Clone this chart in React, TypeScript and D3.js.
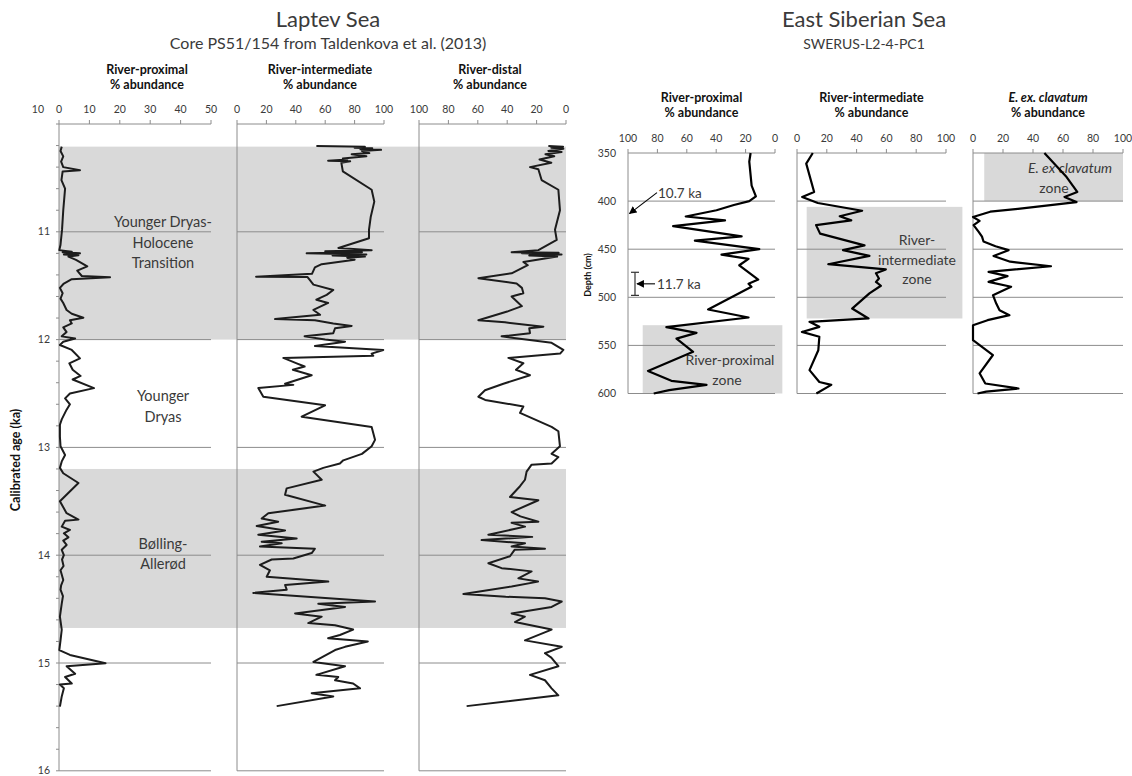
import React from 'react';
import * as d3 from 'd3';

const W = 1132;
const H = 776;
const FONT = "Lato, 'Open Sans', 'Liberation Sans', sans-serif";
const INK = '#1c1c1c';
const GRID = '#8c8c8c';
const BAND = '#d9d9d9';
const TEXT = '#3a3a3a';

type Pt = [number, number];

// ---------- Laptev Sea, core PS51/154 : [calibrated age (ka), % abundance] ----------
const laptevProximal: Pt[] = [
  [10.21, 0.9], [10.25, 0.5], [10.3, 1.4], [10.35, 0.7], [10.4, 1.4], [10.43, 6.9], [10.44, 1.2],
  [10.52, 0.8], [10.6, 2.0], [10.8, 1.4], [10.98, 1.0], [11.12, 0.5], [11.17, 0.1], [11.184, 4.2],
  [11.19, 1.2], [11.2, 6.9], [11.21, 1.6], [11.218, 6.4], [11.23, 3.1], [11.26, 5.6], [11.32, 9.3],
  [11.36, 6.0], [11.41, 7.5], [11.422, 16.8], [11.44, 4.2], [11.48, 1.6], [11.52, 0.3], [11.57, 1.2],
  [11.62, 0.5], [11.66, 1.4], [11.725, 2.5], [11.76, 4.2], [11.797, 8.0], [11.82, 3.6], [11.85, 4.2],
  [11.886, 1.4], [11.93, 2.5], [11.97, 0.9], [11.99, 5.3], [12.02, 1.4], [12.05, 0.3], [12.096, 4.2],
  [12.174, 6.9], [12.22, 3.4], [12.28, 4.5], [12.337, 7.1], [12.37, 4.5], [12.45, 11.5], [12.5, 3.6],
  [12.545, 2.0], [12.6, 3.6], [12.65, 2.5], [12.74, 0.9], [12.79, 0.3], [12.9, 0.3], [12.99, 0.5],
  [13.07, 2.0], [13.13, 0.9], [13.19, 0.3], [13.24, 1.4], [13.33, 6.4], [13.5, 0.3], [13.61, 2.5],
  [13.67, 6.4], [13.68, 2.0], [13.735, 0.9], [13.766, 3.6], [13.797, 1.6], [13.834, 3.1], [13.865, 1.4],
  [13.905, 2.5], [13.95, 0.9], [14.0, 1.6], [14.04, 1.0], [14.1, 1.5], [14.14, 0.5], [14.23, 1.4],
  [14.28, 0.7], [14.32, 0.5], [14.38, 1.3], [14.45, 0.9], [14.57, 0.3], [14.69, 0.9], [14.79, 0.5],
  [14.88, 0.1], [14.925, 3.6], [15.003, 15.3], [15.03, 2.5], [15.1, 5.3], [15.13, 2.0], [15.19, 4.2],
  [15.2, 0.3], [15.235, 1.6], [15.31, 0.9], [15.405, 0.3],
];

const laptevIntermediate: Pt[] = [
  [10.205, 54], [10.21, 87], [10.22, 80], [10.225, 92], [10.235, 84], [10.24, 98], [10.25, 85],
  [10.27, 90], [10.28, 78], [10.3, 88], [10.32, 72], [10.33, 75], [10.34, 62], [10.345, 77],
  [10.36, 71], [10.44, 72], [10.61, 91.6], [10.72, 93.4], [10.86, 91], [10.98, 89.8], [11.06, 89.8],
  [11.15, 69], [11.17, 91.6], [11.18, 60], [11.19, 85], [11.2, 47.4], [11.21, 88], [11.22, 65],
  [11.23, 87], [11.24, 75], [11.26, 80], [11.3, 57.6], [11.33, 53], [11.39, 51], [11.416, 13],
  [11.42, 48], [11.49, 52], [11.54, 65.5], [11.585, 61], [11.63, 54], [11.66, 62], [11.725, 52],
  [11.77, 56.5], [11.81, 25.9], [11.82, 53], [11.85, 65.5], [11.873, 78], [11.895, 66.7], [11.94, 65.5],
  [11.97, 46], [12.0, 60], [12.02, 73.5], [12.06, 53], [12.096, 99.5], [12.13, 91.6], [12.15, 92.7],
  [12.17, 31.5], [12.22, 40.6], [12.25, 46], [12.28, 38], [12.33, 50.8], [12.41, 32.7], [12.42, 38.3],
  [12.45, 14.5], [12.53, 17.9], [12.61, 59.9], [12.715, 44], [12.81, 91.6], [12.93, 93.9], [12.99, 91.6],
  [13.06, 85], [13.12, 72.3], [13.15, 70], [13.19, 58.7], [13.225, 52], [13.3, 57.6], [13.38, 33.8],
  [13.44, 32.7], [13.54, 60], [13.61, 21.3], [13.66, 16.8], [13.69, 28], [13.73, 13.4], [13.77, 32.7],
  [13.81, 14.5], [13.845, 40.6], [13.875, 16.8], [13.89, 30.4], [13.92, 15.6], [13.94, 53], [13.98, 50.8],
  [14.03, 38.3], [14.04, 23.6], [14.09, 15.6], [14.14, 22.4], [14.2, 20.2], [14.245, 62.1], [14.276, 32.7],
  [14.32, 33.8], [14.35, 11.1], [14.43, 93.9], [14.45, 55.3], [14.48, 73.5], [14.54, 39.5], [14.57, 57.6],
  [14.63, 48.5], [14.65, 66.7], [14.69, 79], [14.74, 70], [14.77, 62], [14.8, 89], [14.85, 73.5],
  [14.88, 66.7], [14.99, 52], [15.03, 73.5], [15.11, 54], [15.13, 68.9], [15.16, 66.7], [15.19, 79],
  [15.235, 83.7], [15.28, 50.8], [15.31, 65.5], [15.4, 27],
];

const laptevDistal: Pt[] = [
  [10.205, 12], [10.21, 2], [10.22, 10], [10.23, 1.8], [10.25, 12], [10.26, 3], [10.28, 14], [10.3, 8],
  [10.33, 18], [10.36, 10], [10.4, 24.5], [10.42, 18.8], [10.52, 16.6], [10.61, 5.2], [10.8, 4.1],
  [10.98, 7.5], [11.076, 6.3], [11.17, 18.8], [11.19, 37], [11.195, 5], [11.2, 30], [11.21, 3],
  [11.22, 25], [11.23, 6], [11.28, 29], [11.31, 26], [11.385, 37], [11.43, 59.6], [11.48, 33.6],
  [11.52, 30], [11.57, 29], [11.6, 37], [11.69, 30], [11.74, 40], [11.82, 59.6], [11.84, 41.5],
  [11.88, 15.4], [11.895, 25], [11.94, 24.5], [11.97, 43.8], [12.03, 9.8], [12.096, 1.8], [12.13, 4],
  [12.17, 39.2], [12.22, 29], [12.28, 34], [12.33, 24.5], [12.41, 42.6], [12.47, 55.1], [12.53, 59.6],
  [12.56, 55], [12.62, 29], [12.68, 31.3], [12.81, 9.8], [12.85, 5.2], [12.99, 4.1], [13.06, 9.8],
  [13.09, 5.2], [13.15, 9.8], [13.16, 23.4], [13.225, 26.8], [13.3, 27.9], [13.36, 31.3], [13.46, 38.1],
  [13.49, 18.8], [13.6, 37], [13.64, 31], [13.69, 18.8], [13.7, 37], [13.735, 27.9], [13.81, 52.8],
  [13.83, 23], [13.86, 57.4], [13.89, 27.9], [13.92, 37], [13.94, 14.3], [13.95, 35], [14.01, 38.1],
  [14.075, 52.8], [14.12, 43.8], [14.15, 23.4], [14.215, 32.4], [14.245, 19], [14.29, 37], [14.36, 69.8],
  [14.385, 41], [14.4, 14.3], [14.43, 2.9], [14.48, 9.8], [14.54, 37], [14.57, 28], [14.62, 34.7],
  [14.69, 9.8], [14.79, 27.9], [14.85, 2.9], [14.91, 14.3], [14.95, 10], [15.03, 5.2], [15.11, 24.5],
  [15.16, 14.3], [15.235, 9.8], [15.3, 5.2], [15.4, 67.6],
];

const laptevHeaders = [
  { title: 'River-proximal', italic: false },
  { title: 'River-intermediate', italic: false },
  { title: 'River-distal', italic: false },
];
const laptevDomains: [number, number][] = [[0, 50], [0, 100], [100, 0]];
const laptevAgeDomain: [number, number] = [10, 16];
const laptevPeriods = [
  { from: 10.21, to: 12.0 },
  { from: 13.2, to: 14.675 },
];
const laptevPeriodLabels = [
  { age: 11.1, lines: ['Younger Dryas-', 'Holocene', 'Transition'] },
  { age: 12.62, lines: ['Younger', 'Dryas'] },
  { age: 13.99, lines: ['Bølling-', 'Allerød'] },
];

// ---------- East Siberian Sea, SWERUS-L2-4-PC1 : [depth (cm), % abundance] ----------
const esProximal: Pt[] = [
  [350, 16.6], [359, 17.5], [384, 15.9], [395, 13], [400, 17.5], [404, 28], [409.5, 39.8], [416, 60.7],
  [420, 34], [426, 69.3], [436.6, 22.7], [441, 54.5], [450, 10.7], [455.6, 36.4], [460, 18], [466.7, 24.3],
  [481.6, 11.4], [486, 18], [489, 16], [512.7, 45.5], [521, 18], [531, 73.9], [537, 53.4], [543, 67],
  [556.7, 55.7], [576.5, 86.4], [586.8, 70.5], [591, 46.6], [596.5, 72], [600, 82.5],
];

const esIntermediate: Pt[] = [
  [350, 10.6], [361, 6.2], [390.5, 11.5], [395.7, 3.5], [402, 14], [410, 43.7], [415.8, 28.7], [420, 36.4],
  [425, 12.8], [433.8, 15.5], [446, 45.3], [451, 30.9], [457, 48.6], [465.6, 21], [471, 59.6], [475, 53],
  [480.5, 55], [484, 53], [488, 56.3], [496, 48.6], [511.7, 37], [522, 48], [525.5, 8.4], [530.7, 15],
  [536, 3.3], [541, 15], [555, 14.3], [575.7, 8.4], [588, 15], [591, 23], [600, 13],
];

const esClavatum: Pt[] = [
  [350, 47.6], [363, 55.3], [375, 62.4], [390.5, 69.5], [395.7, 61], [401, 69], [408, 30], [411, 11.5],
  [416.5, 0], [420.6, 4.4], [425, 0.4], [432, 3.8], [437, 6], [442, 7], [447, 15], [451, 23.7],
  [457, 13.7], [463, 24.8], [467.7, 52], [473.6, 10.4], [478, 23], [484, 10.4], [489, 25.4], [497.8, 13.3],
  [506.5, 15.5], [513.4, 17.7], [518.6, 24.3], [523.8, 9.7], [529, 0], [544.6, 0], [560, 13.3],
  [579, 4.4], [589.6, 8.2], [594.8, 30.3], [598, 8.8], [600, 3],
];

const esHeaders = [
  { title: 'River-proximal', italic: false },
  { title: 'River-intermediate', italic: false },
  { title: 'E. ex. clavatum', italic: true },
];
const esDomains: [number, number][] = [[100, 0], [0, 100], [0, 100]];
const esDepthDomain: [number, number] = [350, 600];
const esZones = [
  { depth: [529, 600], value: [90, -5], lines: ['River-proximal', 'zone'], italic: false },
  { depth: [406, 522], value: [6.5, 111], lines: ['River-', 'intermediate', 'zone'], italic: false },
  { depth: [350, 400], value: [7.5, 100], lines: ['E. ex clavatum', 'zone'], italic: true },
];
const esAgeMarks = [
  { label: '10.7 ka', depth: 413 },
  { label: '11.7 ka', depth: 486, range: [474, 498] },
];

// ---------- layout ----------
const LP = {
  top: 124,
  bottom: 770.8,
  ranges: [[59, 211], [237, 384], [419, 566]] as [number, number][],
  headerX: [147, 320, 490],
  periodLabelX: 163,
};
const EP = {
  top: 153,
  bottom: 393.5,
  ranges: [[628, 775], [797, 946], [973, 1123]] as [number, number][],
  zoneLabel: [
    { x: 730, y: 365, dx: [0, -3] },
    { x: 917, y: 245, dx: [0, 0, 0] },
    { x: 1070, y: 173, dx: [0, -16] },
  ],
};

function XAxis({ x, y, labelY }: { x: d3.ScaleLinear<number, number>; y: number; labelY: number }) {
  const [r0, r1] = x.range();
  return (
    <g>
      <line x1={r0} x2={r1} y1={y} y2={y} stroke={GRID} strokeWidth={1} />
      {x.ticks(5).map((t) => (
        <g key={t}>
          <line x1={x(t)} x2={x(t)} y1={y} y2={y - 4} stroke={GRID} strokeWidth={1} />
          <text x={x(t)} y={labelY} textAnchor="middle" fontSize={10.5} fill={TEXT} fontFamily={FONT}>
            {t}
          </text>
        </g>
      ))}
    </g>
  );
}

export default function App() {
  const ageY = d3.scaleLinear().domain(laptevAgeDomain).range([LP.top, LP.bottom]);
  const depthY = d3.scaleLinear().domain(esDepthDomain).range([EP.top, EP.bottom]);

  const lapX = LP.ranges.map((r, i) => d3.scaleLinear().domain(laptevDomains[i]).range(r));
  const esX = EP.ranges.map((r, i) => d3.scaleLinear().domain(esDomains[i]).range(r));

  const lapSeries = [laptevProximal, laptevIntermediate, laptevDistal];
  const esSeries = [esProximal, esIntermediate, esClavatum];

  const lapLine = (x: d3.ScaleLinear<number, number>) =>
    d3.line<Pt>().x((d) => x(d[1])).y((d) => ageY(d[0]));
  const esLine = (x: d3.ScaleLinear<number, number>) =>
    d3.line<Pt>().x((d) => x(d[1])).y((d) => depthY(d[0]));

  const bandX0 = lapX[0](laptevDomains[0][0]);
  const bandX1 = lapX[2](laptevDomains[2][1]);
  const gridAges = d3.range(laptevAgeDomain[0] + 1, laptevAgeDomain[1] + 0.5, 1);
  const minorAges = ageY.ticks(30);
  const gridDepths = depthY.ticks(5).filter((d) => d > esDepthDomain[0]);

  return (
    <svg
      width={W}
      height={H}
      viewBox={`0 0 ${W} ${H}`}
      style={{ position: 'absolute', left: 0, top: 0, background: '#fff' }}
      fontFamily={FONT}
    >
      <defs>
        <marker id="arrowHead" viewBox="0 0 10 10" refX="9" refY="5" markerWidth="7" markerHeight="7" orient="auto">
          <path d="M0,0 L10,5 L0,10 z" fill="#000" />
        </marker>
      </defs>
      <rect x={0} y={0} width={W} height={H} fill="#fff" />

      {/* ===== Laptev Sea ===== */}
      <text x={328} y={27} textAnchor="middle" fontSize={22} fill={TEXT}>Laptev Sea</text>
      <text x={328} y={49} textAnchor="middle" fontSize={16} fill={TEXT}>Core PS51/154 from Taldenkova et al. (2013)</text>

      {laptevPeriods.map((p, i) => (
        <rect key={i} x={bandX0} width={bandX1 - bandX0} y={ageY(p.from)} height={ageY(p.to) - ageY(p.from)} fill={BAND} />
      ))}

      {lapX.map((x, i) => {
        const [r0, r1] = x.range();
        return (
          <g key={i}>
            {gridAges.map((a) => (
              <line key={a} x1={r0} x2={r1} y1={ageY(a)} y2={ageY(a)} stroke={GRID} strokeWidth={1} />
            ))}
            <line x1={r0} x2={r0} y1={LP.top} y2={LP.bottom} stroke={GRID} strokeWidth={1} />
            <XAxis x={x} y={LP.top} labelY={113} />
            <text x={LP.headerX[i]} y={74} textAnchor="middle" fontSize={12.5} fontWeight="bold" fill="#111">
              {laptevHeaders[i].title}
            </text>
            <text x={LP.headerX[i]} y={89} textAnchor="middle" fontSize={12.5} fontWeight="bold" fill="#111">
              % abundance
            </text>
          </g>
        );
      })}

      {/* age axis */}
      {minorAges.map((a) => (
        <line key={a} x1={LP.ranges[0][0] - 3} x2={LP.ranges[0][0]} y1={ageY(a)} y2={ageY(a)} stroke={GRID} strokeWidth={1} />
      ))}
      {ageY.ticks(6).map((a) =>
        a === laptevAgeDomain[0] ? (
          <text key={a} x={44} y={113} textAnchor="end" fontSize={10.5} fill={TEXT}>{a}</text>
        ) : (
          <text key={a} x={50} y={ageY(a)} dy="0.35em" textAnchor="end" fontSize={10.5} fill={TEXT}>{a}</text>
        )
      )}
      <text
        transform={`translate(20,460) rotate(-90)`}
        textAnchor="middle"
        fontSize={12.5}
        fontWeight="bold"
        fill="#111"
      >
        Calibrated age (ka)
      </text>

      {laptevPeriodLabels.map((p, i) => {
        const n = p.lines.length;
        const lh = 20.5;
        const y0 = ageY(p.age) - ((n - 1) * lh) / 2;
        return (
          <text key={i} textAnchor="middle" fontSize={14.5} fill={TEXT}>
            {p.lines.map((l, j) => (
              <tspan key={j} x={LP.periodLabelX} y={y0 + j * lh} dy="0.35em">{l}</tspan>
            ))}
          </text>
        );
      })}

      {lapX.map((x, i) => (
        <path
          key={i}
          d={lapLine(x)(lapSeries[i]) || ''}
          fill="none"
          stroke={INK}
          strokeWidth={2}
          strokeLinejoin="round"
        />
      ))}

      {/* ===== East Siberian Sea ===== */}
      <text x={864} y={27} textAnchor="middle" fontSize={22} fill={TEXT}>East Siberian Sea</text>
      <text x={864} y={49} textAnchor="middle" fontSize={14} fill={TEXT}>SWERUS-L2-4-PC1</text>

      {esZones.map((z, i) => {
        const x = esX[i];
        const xa = x(z.value[0]);
        const xb = x(z.value[1]);
        return (
          <rect
            key={i}
            x={Math.min(xa, xb)}
            width={Math.abs(xb - xa)}
            y={depthY(z.depth[0])}
            height={depthY(z.depth[1]) - depthY(z.depth[0])}
            fill={BAND}
          />
        );
      })}

      {esX.map((x, i) => {
        const [r0, r1] = x.range();
        const h = esHeaders[i];
        return (
          <g key={i}>
            {gridDepths.map((d) => (
              <line key={d} x1={r0} x2={r1} y1={depthY(d)} y2={depthY(d)} stroke={GRID} strokeWidth={1} />
            ))}
            <line x1={r0} x2={r0} y1={EP.top} y2={EP.bottom} stroke={GRID} strokeWidth={1} />
            <XAxis x={x} y={EP.top} labelY={142} />
            <text x={(r0 + r1) / 2} y={102} textAnchor="middle" fontSize={12.5} fontWeight="bold" fontStyle={h.italic ? 'italic' : 'normal'} fill="#111">
              {h.title}
            </text>
            <text x={(r0 + r1) / 2} y={117} textAnchor="middle" fontSize={12.5} fontWeight="bold" fill="#111">
              % abundance
            </text>
          </g>
        );
      })}

      {depthY.ticks(5).map((d) => (
        <text key={d} x={616} y={depthY(d)} dy="0.35em" textAnchor="end" fontSize={10.5} fill={TEXT}>{d}</text>
      ))}
      <text transform="translate(591,275) rotate(-90)" textAnchor="middle" fontSize={9} fontWeight="bold" fill="#111">
        Depth (cm)
      </text>

      {esZones.map((z, i) => {
        const pos = EP.zoneLabel[i];
        return (
          <text key={i} fontSize={14} fill={TEXT} textAnchor="middle">
            {z.lines.map((l, j) => (
              <tspan key={j} x={pos.x + pos.dx[j]} y={pos.y + j * 19.5} fontStyle={z.italic && j === 0 ? 'italic' : 'normal'}>
                {l}
              </tspan>
            ))}
          </text>
        );
      })}

      {/* age markers */}
      {(() => {
        const m1 = esAgeMarks[0];
        const m2 = esAgeMarks[1];
        const axisX = EP.ranges[0][0];
        const y1 = depthY(m1.depth);
        const y2 = depthY(m2.depth);
        const r = m2.range as number[];
        return (
          <g>
            <line x1={axisX + 29} y1={y1 - 21} x2={axisX + 1.5} y2={y1} stroke="#000" strokeWidth={1.1} markerEnd="url(#arrowHead)" />
            <text x={axisX + 30} y={y1 - 16} fontSize={13.5} fill={TEXT}>{m1.label}</text>
            <line x1={axisX + 7} x2={axisX + 7} y1={depthY(r[0])} y2={depthY(r[1])} stroke="#333" strokeWidth={1.2} />
            <line x1={axisX + 3} x2={axisX + 11} y1={depthY(r[0])} y2={depthY(r[0])} stroke="#333" strokeWidth={1.2} />
            <line x1={axisX + 3} x2={axisX + 11} y1={depthY(r[1])} y2={depthY(r[1])} stroke="#333" strokeWidth={1.2} />
            <line x1={axisX + 27} y1={y2} x2={axisX + 9} y2={y2} stroke="#000" strokeWidth={1.1} markerEnd="url(#arrowHead)" />
            <text x={axisX + 29} y={y2} dy="0.35em" fontSize={13.5} fill={TEXT}>{m2.label}</text>
          </g>
        );
      })()}

      {esX.map((x, i) => (
        <path
          key={i}
          d={esLine(x)(esSeries[i]) || ''}
          fill="none"
          stroke="#000"
          strokeWidth={2.2}
          strokeLinejoin="round"
        />
      ))}
    </svg>
  );
}
